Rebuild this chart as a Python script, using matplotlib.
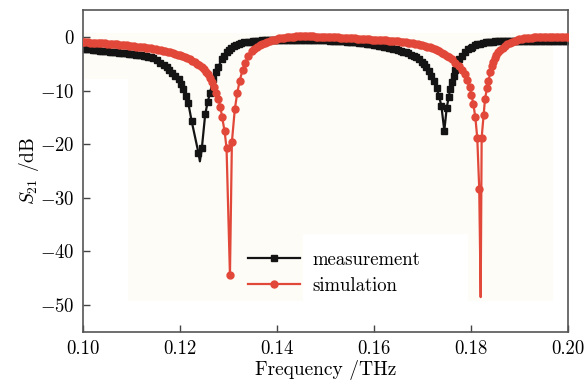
import matplotlib
matplotlib.use("Agg")
import matplotlib.pyplot as plt
from matplotlib.patches import Rectangle

plt.rcParams["font.family"] = "cmr10"
plt.rcParams["mathtext.fontset"] = "cm"
plt.rcParams["axes.formatter.use_mathtext"] = True

# measurement (black squares)
freq_meas = [
    0.1000, 0.1005, 0.1010, 0.1015, 0.1020, 0.1025, 0.1030, 0.1035, 0.1040, 0.1045,
    0.1050, 0.1055, 0.1060, 0.1065, 0.1070, 0.1075, 0.1080, 0.1085, 0.1090, 0.1095,
    0.1100, 0.1105, 0.1110, 0.1115, 0.1120, 0.1125, 0.1130, 0.1135, 0.1140, 0.1145,
    0.1152, 0.1159, 0.1166, 0.1173, 0.1178, 0.1183, 0.1190, 0.1197, 0.1202, 0.1207,
    0.1212, 0.1217, 0.1224, 0.1238, 0.1241, 0.1245, 0.1252, 0.1257, 0.1262, 0.1269,
    0.1274, 0.1279, 0.1286, 0.1291, 0.1296, 0.1301, 0.1306, 0.1311, 0.1316, 0.1321,
    0.1326, 0.1333, 0.1340, 0.1345, 0.1350, 0.1355, 0.1360, 0.1365, 0.1370, 0.1375,
    0.1380, 0.1385, 0.1390, 0.1395, 0.1400, 0.1405, 0.1410, 0.1415, 0.1420, 0.1425,
    0.1430, 0.1435, 0.1440, 0.1445, 0.1450, 0.1455, 0.1460, 0.1465, 0.1470, 0.1475,
    0.1480, 0.1485, 0.1490, 0.1495, 0.1500, 0.1505, 0.1510, 0.1515, 0.1520, 0.1525,
    0.1530, 0.1535, 0.1540, 0.1545, 0.1550, 0.1555, 0.1560, 0.1565, 0.1570, 0.1575,
    0.1580, 0.1585, 0.1590, 0.1595, 0.1600, 0.1605, 0.1610, 0.1615, 0.1620, 0.1625,
    0.1630, 0.1635, 0.1640, 0.1645, 0.1650, 0.1655, 0.1660, 0.1665, 0.1670, 0.1677,
    0.1683, 0.1687, 0.1693, 0.1698, 0.1703, 0.1708, 0.1713, 0.1718, 0.1724, 0.1729,
    0.1734, 0.1739, 0.1745, 0.1750, 0.1754, 0.1757, 0.1761, 0.1764, 0.1768, 0.1771,
    0.1776, 0.1781, 0.1788, 0.1794, 0.1799, 0.1803, 0.1808, 0.1812, 0.1818, 0.1825,
    0.1830, 0.1835, 0.1840, 0.1845, 0.1850, 0.1855, 0.1860, 0.1865, 0.1870, 0.1875,
    0.1880, 0.1885, 0.1890, 0.1895, 0.1900, 0.1905, 0.1910, 0.1915, 0.1920, 0.1925,
    0.1930, 0.1935, 0.1940, 0.1945, 0.1950, 0.1955, 0.1960, 0.1965, 0.1970, 0.1975,
    0.1980, 0.1985, 0.1990, 0.1995, 0.2000,
]
s21_meas = [
    -2.2, -2.25, -2.3, -2.35, -2.4, -2.45, -2.5, -2.55, -2.6, -2.65,
    -2.7, -2.75, -2.8, -2.85, -2.9, -2.95, -3.0, -3.05, -3.1, -3.15,
    -3.2, -3.25, -3.3, -3.35, -3.4, -3.5, -3.6, -3.7, -3.8, -3.9,
    -4.3, -4.8, -5.2, -5.7, -6.2, -6.7, -7.3, -7.9, -8.8, -9.8,
    -11.0, -12.3, -15.7, -21.6, -23.2, -20.8, -14.4, -12.2, -10.4, -7.8,
    -6.6, -5.7, -4.1, -3.5, -2.9, -2.4, -2.0, -1.75, -1.5, -1.35,
    -1.2, -1.05, -0.95, -0.9, -0.85, -0.8, -0.75, -0.72, -0.68, -0.65,
    -0.62, -0.6, -0.58, -0.56, -0.55, -0.54, -0.53, -0.52, -0.52, -0.51,
    -0.51, -0.51, -0.51, -0.52, -0.52, -0.53, -0.54, -0.55, -0.56, -0.57,
    -0.58, -0.6, -0.61, -0.63, -0.65, -0.67, -0.69, -0.71, -0.73, -0.76,
    -0.79, -0.82, -0.85, -0.88, -0.92, -0.96, -1.0, -1.05, -1.1, -1.15,
    -1.2, -1.26, -1.32, -1.39, -1.46, -1.54, -1.62, -1.71, -1.8, -1.9,
    -2.0, -2.1, -2.2, -2.3, -2.45, -2.6, -2.75, -2.9, -3.05, -3.3,
    -3.6, -3.8, -4.1, -4.6, -5.1, -5.7, -6.4, -7.3, -8.3, -9.5,
    -11.0, -12.9, -17.5, -13.2, -11.3, -9.8, -8.4, -7.3, -6.1, -5.1,
    -4.2, -3.5, -2.8, -2.3, -2.0, -1.8, -1.6, -1.4, -1.25, -1.1,
    -1.0, -0.95, -0.9, -0.88, -0.86, -0.84, -0.82, -0.8, -0.79, -0.78,
    -0.77, -0.76, -0.75, -0.74, -0.74, -0.73, -0.73, -0.72, -0.72, -0.72,
    -0.71, -0.71, -0.71, -0.71, -0.7, -0.7, -0.7, -0.7, -0.7, -0.7,
    -0.7, -0.7, -0.7, -0.7, -0.7,
]

# simulation (red circles)
freq_sim = [
    0.1000, 0.1005, 0.1010, 0.1015, 0.1020, 0.1025, 0.1030, 0.1035, 0.1040, 0.1045,
    0.1050, 0.1055, 0.1060, 0.1065, 0.1070, 0.1075, 0.1080, 0.1085, 0.1090, 0.1095,
    0.1100, 0.1105, 0.1110, 0.1115, 0.1120, 0.1125, 0.1130, 0.1135, 0.1140, 0.1145,
    0.1150, 0.1155, 0.1160, 0.1165, 0.1170, 0.1175, 0.1180, 0.1185, 0.1190, 0.1195,
    0.1200, 0.1205, 0.1210, 0.1215, 0.1220, 0.1225, 0.1230, 0.1235, 0.1240, 0.1245,
    0.1250, 0.1254, 0.1258, 0.1262, 0.1266, 0.1270, 0.1275, 0.1279, 0.1283, 0.1287,
    0.1292, 0.1296, 0.1303, 0.1307, 0.1313, 0.1318, 0.1323, 0.1329, 0.1335, 0.1341,
    0.1348, 0.1353, 0.1358, 0.1364, 0.1370, 0.1375, 0.1380, 0.1385, 0.1390, 0.1395,
    0.1400, 0.1405, 0.1410, 0.1415, 0.1420, 0.1425, 0.1430, 0.1435, 0.1440, 0.1445,
    0.1450, 0.1455, 0.1460, 0.1465, 0.1470, 0.1475, 0.1480, 0.1485, 0.1490, 0.1495,
    0.1500, 0.1505, 0.1510, 0.1515, 0.1520, 0.1525, 0.1530, 0.1535, 0.1540, 0.1545,
    0.1550, 0.1555, 0.1560, 0.1565, 0.1570, 0.1575, 0.1580, 0.1585, 0.1590, 0.1595,
    0.1600, 0.1605, 0.1610, 0.1615, 0.1620, 0.1625, 0.1630, 0.1635, 0.1640, 0.1645,
    0.1650, 0.1655, 0.1660, 0.1665, 0.1670, 0.1675, 0.1680, 0.1685, 0.1690, 0.1695,
    0.1700, 0.1705, 0.1710, 0.1715, 0.1720, 0.1725, 0.1730, 0.1735, 0.1740, 0.1745,
    0.1750, 0.1755, 0.1760, 0.1768, 0.1775, 0.1781, 0.1787, 0.1792, 0.1797, 0.1801,
    0.1805, 0.1809, 0.1813, 0.1817, 0.1820, 0.1822, 0.1826, 0.1829, 0.1833, 0.1836,
    0.1840, 0.1843, 0.1846, 0.1849, 0.1852, 0.1856, 0.1860, 0.1865, 0.1870, 0.1875,
    0.1880, 0.1885, 0.1890, 0.1895, 0.1900, 0.1905, 0.1910, 0.1915, 0.1920, 0.1925,
    0.1930, 0.1935, 0.1940, 0.1945, 0.1950, 0.1955, 0.1960, 0.1965, 0.1970, 0.1975,
    0.1980, 0.1985, 0.1990, 0.1995, 0.2000,
]
s21_sim = [
    -1.0, -1.02, -1.04, -1.06, -1.08, -1.1, -1.13, -1.16, -1.19, -1.22,
    -1.25, -1.29, -1.33, -1.37, -1.41, -1.45, -1.5, -1.55, -1.6, -1.65,
    -1.7, -1.75, -1.8, -1.86, -1.92, -1.98, -2.04, -2.1, -2.17, -2.24,
    -2.32, -2.4, -2.49, -2.58, -2.68, -2.79, -2.9, -3.02, -3.15, -3.3,
    -3.45, -3.62, -3.8, -4.0, -4.22, -4.46, -4.72, -5.0, -5.3, -5.65,
    -6.05, -6.5, -7.0, -7.6, -8.4, -9.3, -10.4, -11.5, -13.0, -15.0,
    -17.6, -20.8, -44.4, -19.6, -13.5, -10.5, -8.2, -6.2, -4.8, -3.6,
    -2.7, -2.2, -1.9, -1.55, -1.3, -1.1, -0.92, -0.77, -0.63, -0.5,
    -0.4, -0.3, -0.22, -0.15, -0.08, -0.03, 0.02, 0.06, 0.09, 0.11,
    0.12, 0.12, 0.12, 0.11, 0.1, 0.08, 0.06, 0.04, 0.02, 0.0,
    -0.02, -0.04, -0.06, -0.08, -0.1, -0.12, -0.14, -0.16, -0.18, -0.2,
    -0.23, -0.26, -0.29, -0.32, -0.35, -0.38, -0.41, -0.44, -0.47, -0.5,
    -0.53, -0.56, -0.59, -0.62, -0.65, -0.68, -0.71, -0.74, -0.78, -0.82,
    -0.86, -0.9, -0.95, -1.0, -1.06, -1.13, -1.2, -1.28, -1.37, -1.47,
    -1.58, -1.7, -1.83, -1.97, -2.12, -2.3, -2.5, -2.72, -2.96, -3.22,
    -3.5, -3.82, -4.2, -4.8, -5.5, -6.2, -7.0, -8.0, -9.3, -10.8,
    -12.6, -15.0, -18.9, -28.3, -48.5, -18.8, -14.5, -11.5, -9.6, -8.2,
    -6.6, -5.4, -4.6, -3.9, -3.4, -2.9, -2.5, -2.05, -1.7, -1.35,
    -1.1, -0.88, -0.7, -0.55, -0.42, -0.33, -0.26, -0.2, -0.16, -0.13,
    -0.11, -0.1, -0.1, -0.1, -0.1, -0.1, -0.1, -0.1, -0.1, -0.1,
    -0.1, -0.1, -0.1, -0.1, -0.1,
]

fig = plt.figure(figsize=(5.87, 3.82), dpi=100)
ax = fig.add_axes([0.1414, 0.1309, 0.8262, 0.8429])

# faint scan tint behind the curves
cream = "#fefcf7"
for x0, y0, w, h in [(0.1093, -36.8, 0.0876, 37.6), (0.1093, -49.3, 0.0361, 12.5),
                     (0.1794, -49.3, 0.0175, 12.5), (0.100, -7.8, 0.0093, 8.6)]:
    ax.add_patch(Rectangle((x0, y0), w, h, facecolor=cream, edgecolor="none", zorder=0))

tip_m = freq_meas.index(0.1241)
tip_s = freq_sim.index(0.1820)
ax.plot(freq_meas, s21_meas, color="#141414", lw=1.6, marker="s", ms=4.6,
        markevery=[i for i in range(len(freq_meas)) if i != tip_m],
        label="measurement", zorder=2)
ax.plot(freq_sim, s21_sim, color="#e2483a", lw=1.6, marker="o", ms=5.0,
        markevery=[i for i in range(len(freq_sim)) if i != tip_s],
        label="simulation", zorder=3)

ax.set_xlim(0.10, 0.20)
ax.set_ylim(-55, 5)
ax.set_xticks([0.10, 0.12, 0.14, 0.16, 0.18, 0.20])
ax.set_xticklabels(["0.10", "0.12", "0.14", "0.16", "0.18", "0.20"])
ax.set_yticks([0, -10, -20, -30, -40, -50])
ax.set_yticklabels([r"$0$", r"$-10$", r"$-20$", r"$-30$", r"$-40$", r"$-50$"])
ax.tick_params(direction="in", length=5, width=1, color="#444444",
               labelsize=13.5, top=False, right=False, pad=6)
for sp in ax.spines.values():
    sp.set_color("#555555")
    sp.set_linewidth(1.2)

ax.set_xlabel("Frequency /THz", fontsize=14, labelpad=1)
ax.set_ylabel(r"$S_{21}$ /dB", fontsize=14, labelpad=-1)

ax.legend(loc="lower left", bbox_to_anchor=(0.305, 0.063), frameon=False,
          fontsize=13.5, handlelength=2.8, labelspacing=0.42, handletextpad=0.65)

fig.savefig("out.png", dpi=100)
